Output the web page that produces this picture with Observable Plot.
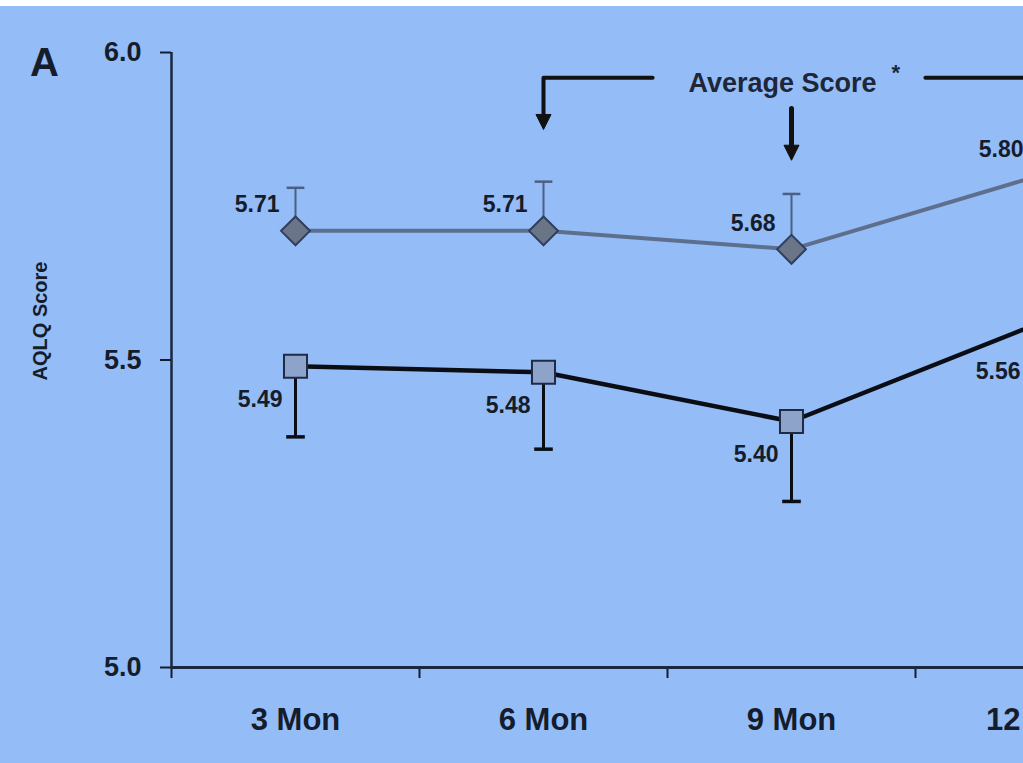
<!DOCTYPE html>
<html>
<head>
<meta charset="utf-8">
<script src="https://cdn.jsdelivr.net/npm/d3@7"></script>
<script src="https://cdn.jsdelivr.net/npm/@observablehq/plot@0.6"></script>
<style>
  html, body { margin: 0; padding: 0; background: #ffffff; overflow: hidden; }
  #chart { margin-top: 6px; width: 1023px; overflow: hidden; }
</style>
</head>
<body>
<div id="chart"></div>
<script>
// ---- data ----
const categories = ["3 Mon", "6 Mon", "9 Mon", "12 Mon"];
const positions = [0, 1, 2, 3];
const diamondMean = [5.71, 5.71, 5.68, 5.80];
const diamondUpper = [5.78, 5.79, 5.77, null];
const squareMean = [5.49, 5.48, 5.40, 5.56];
const squareLower = [5.375, 5.355, 5.27, null];
const yTicks = [5.0, 5.5, 6.0];
const xBoundaries = [-0.5, 0.5, 1.5, 2.5, 3.5];
// annotation ("Average Score *" bracket), in data units
const bracketLeftX = [1.44, 1, 1];
const bracketLeftY = [5.959, 5.959, 5.887];
const bracketRightX = [2.54, 3.0];
const bracketRightY = [5.959, 5.959];
const midArrowX = [2, 2];
const midArrowY = [5.909, 5.837];
const arrowHeadX = [1, 2];
const arrowHeadY = [5.887, 5.837];

const diamondRows = positions.map((p, i) => ({p, mean: diamondMean[i], upper: diamondUpper[i]}));
const squareRows = positions.map((p, i) => ({p, mean: squareMean[i], lower: squareLower[i]}));
const toPts = (xs, ys) => xs.map((x, i) => ({x, y: ys[i]}));

// custom symbols
const hline = {draw(ctx, size) { const w = Math.sqrt(size); ctx.moveTo(-w / 2, 0); ctx.lineTo(w / 2, 0); }};
const downTri = {draw(ctx, size) { const s = Math.sqrt(size); ctx.moveTo(-s / 2, -s / 2); ctx.lineTo(s / 2, -s / 2); ctx.lineTo(0, s / 2); ctx.closePath(); }};

const ink = "#151c2b";
const fmt2 = d3.format(".2f");

const plot = Plot.plot({
  width: 1023,
  height: 757,
  marginLeft: 171,
  marginRight: 0,
  marginTop: 46,
  marginBottom: 96,
  style: {background: "#94bdf7", fontFamily: "'Liberation Sans', Arial, sans-serif", color: ink, overflow: "hidden"},
  x: {domain: [-0.5, 3.5], range: [171, 1163]},
  y: {domain: [5, 6]},
  marks: [
    // axes
    Plot.axisY({ticks: yTicks, tickFormat: d3.format(".1f"), tickSize: 11, tickPadding: 19, fontSize: 27, fontWeight: "bold", strokeWidth: 2, label: null}),
    Plot.axisX({ticks: positions, tickFormat: i => categories[i], tickSize: 0, tickPadding: 40, fontSize: 31, fontWeight: "bold", label: null}),
    Plot.axisX({ticks: xBoundaries, tickFormat: () => "", tickSize: 11, strokeWidth: 2, label: null}),
    Plot.ruleX([-0.5], {y1: 5, y2: 6, stroke: "#1a2740", strokeWidth: 2.5}),
    Plot.ruleY([5], {x1: -0.5, x2: 3.5, stroke: "#1a2740", strokeWidth: 3}),
    Plot.text(["AQLQ Score"], {frameAnchor: "left", textAnchor: "middle", lineAnchor: "middle", rotate: -90, dx: -131, dy: -39, fontSize: 20, fontWeight: "bold", fill: ink}),
    Plot.text(["A"], {frameAnchor: "top-left", textAnchor: "middle", lineAnchor: "middle", dx: -127, dy: 11, fontSize: 40, fontWeight: "bold", fill: ink}),

    // annotation bracket
    Plot.line(toPts(bracketLeftX, bracketLeftY), {x: "x", y: "y", stroke: "#111111", strokeWidth: 4}),
    Plot.line(toPts(bracketRightX, bracketRightY), {x: "x", y: "y", stroke: "#111111", strokeWidth: 4}),
    Plot.line(toPts(midArrowX, midArrowY), {x: "x", y: "y", stroke: "#111111", strokeWidth: 5}),
    Plot.dot(toPts(arrowHeadX, arrowHeadY), {x: "x", y: "y", symbol: downTri, r: 8.5, fill: "#111111", stroke: "#111111", strokeWidth: 1}),
    Plot.text(["Average Score"], {x: 1.964, y: 5.9496, fontSize: 27, fontWeight: "bold", fill: "#1e2638"}),
    Plot.text(["*"], {x: 2.42, y: 5.966, fontSize: 22, fontWeight: "bold", fill: "#1e2638"}),

    // diamond series
    Plot.line(diamondRows, {x: "p", y: "mean", stroke: "#5e6f8e", strokeWidth: 4}),
    Plot.ruleX(diamondRows.filter(d => d.upper != null), {x: "p", y1: "mean", y2: "upper", stroke: "#4b5f82", strokeWidth: 2}),
    Plot.dot(diamondRows.filter(d => d.upper != null), {x: "p", y: "upper", symbol: hline, r: 10, stroke: "#4b5f82", strokeWidth: 2.5}),
    Plot.dot(diamondRows, {x: "p", y: "mean", symbol: "diamond2", r: 13, fill: "#6b7588", stroke: "#2f3e5e", strokeWidth: 2}),
    Plot.text(diamondRows, {x: "p", y: "mean", text: d => fmt2(d.mean), textAnchor: "end", dx: -16, dy: -26, fontSize: 23, fontWeight: "bold", fill: ink}),

    // square series
    Plot.line(squareRows, {x: "p", y: "mean", stroke: "#0b0d14", strokeWidth: 4.5}),
    Plot.ruleX(squareRows.filter(d => d.lower != null), {x: "p", y1: "mean", y2: "lower", stroke: "#0b0d14", strokeWidth: 3}),
    Plot.dot(squareRows.filter(d => d.lower != null), {x: "p", y: "lower", symbol: hline, r: 10.5, stroke: "#0b0d14", strokeWidth: 3.5}),
    Plot.dot(squareRows, {x: "p", y: "mean", symbol: "square", r: 13, fill: "#8ea3c9", stroke: "#1f2a45", strokeWidth: 2}),
    Plot.text(squareRows.filter(d => d.lower != null), {x: "p", y: "mean", text: d => fmt2(d.mean), textAnchor: "end", dx: -13, dy: 33, fontSize: 23, fontWeight: "bold", fill: ink}),
    Plot.text(squareRows.filter(d => d.lower == null), {x: "p", y: "mean", text: d => fmt2(d.mean), textAnchor: "end", dx: -19, dy: 49, fontSize: 23, fontWeight: "bold", fill: ink})
  ]
});
document.getElementById("chart").appendChild(plot);
</script>
</body>
</html>
